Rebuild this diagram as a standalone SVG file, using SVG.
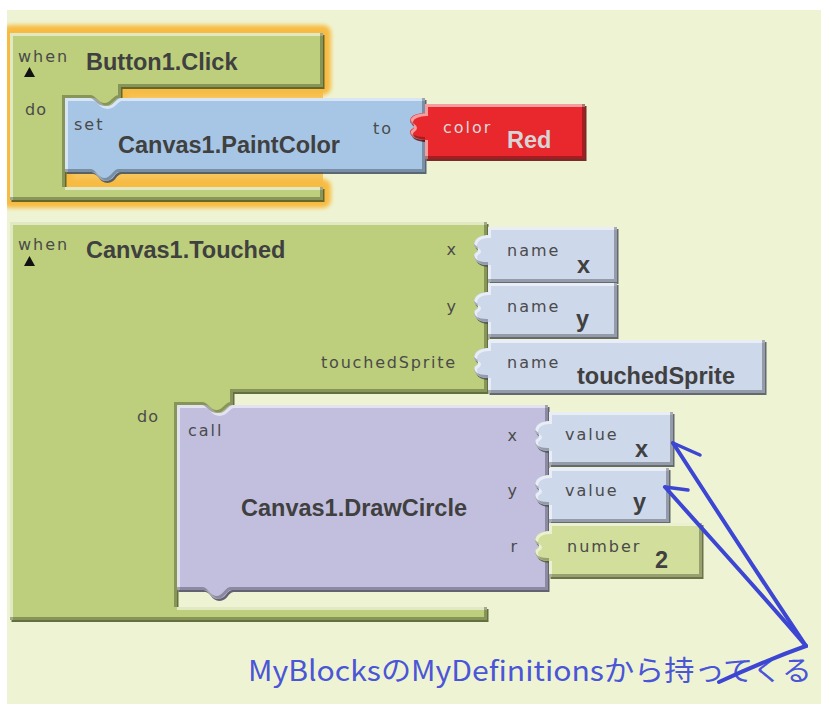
<svg xmlns="http://www.w3.org/2000/svg" xmlns:xlink="http://www.w3.org/1999/xlink" width="821" height="704" viewBox="0 0 821 704">
  <style>
    .sh { opacity: .85; }
    .hl { fill: none; stroke: #ffffff; stroke-opacity: .55; stroke-width: 3; }
    .dk { fill: none; stroke: #000000; stroke-opacity: .28; stroke-width: 3; }
    .lbl { font-family: "DejaVu Sans", Verdana, sans-serif; font-size: 16px; fill: #4a4a4a; letter-spacing: 2px; }
    .lbl0 { font-family: "DejaVu Sans", Verdana, sans-serif; font-size: 16px; fill: #4a4a4a; letter-spacing: 1px; }
    .ttl { font-family: "Liberation Sans", Arial, sans-serif; font-size: 23.5px; font-weight: bold; fill: #404040; }
    .tri { fill: #111111; }
    .note { font-family: "Noto Sans CJK JP", "Noto Sans", sans-serif; font-size: 28px; fill: #4B55D8; }
  </style>
  <defs>
    <!-- block outlines -->
    <path id="p-btn" d="M10,33 H323 V87 H121 V98 H120 C115,98 114,106 106,106 C98,106 97,98 92,98 H65 V187 H323 V200 H10 Z"/>
    <path id="p-set" d="M65,98 H92 C97,98 98,106 106,106 C114,106 115,98 120,98 H425 V172 H120 C115,172 114,181 106,181 C98,181 97,172 92,172 H65 Z"/>
    <path id="p-red" d="M425,104 H585 V159 H425 V140 C419,140 410,138 410,132 C410,129 414,129 414,126.5 C414,124 410,124 410,121 C410,115 419,113 425,113 Z"/>
    <path id="p-tch" d="M10,222 H487 V392 H233 V405 H232 C227,405 226,413 218,413 C210,413 209,405 204,405 H177 V607 H487 V620 H10 Z"/>
    <path id="p-nx" d="M488,227 H617 V282 H488 V265 C482,265 474,263 474,255 C474,252 478,252 478,250 C478,248 474,248 474,245 C474,237 482,235 488,235 Z"/>
    <path id="p-ny" d="M488,283 H617 V337 H488 V322 C482,322 474,320 474,312 C474,309 478,309 478,307 C478,305 474,305 474,302 C474,294 482,292 488,292 Z"/>
    <path id="p-ns" d="M488,340 H765 V393 H488 V378 C482,378 474,376 474,368 C474,365 478,365 478,363 C478,361 474,361 474,358 C474,350 482,348 488,348 Z"/>
    <path id="p-call" d="M177,405 H204 C209,405 210,413 218,413 C226,413 227,405 232,405 H548 V590 H232 C227,590 226,599 218,599 C210,599 209,590 204,590 H177 Z"/>
    <path id="p-vx" d="M549,412 H673 V465 H549 V451 C543,451 535,449 535,441 C535,438 539,438 539,436 C539,434 535,434 535,431 C535,423 543,421 549,421 Z"/>
    <path id="p-vy" d="M549,468 H669 V522 H549 V505 C543,505 535,503 535,495 C535,492 539,492 539,490 C539,488 535,488 535,485 C535,477 543,475 549,475 Z"/>
    <path id="p-n2" d="M549,523 H702 V577 H549 V561 C543,561 535,559 535,551 C535,548 539,548 539,546 C539,544 535,544 535,541 C535,533 543,531 549,531 Z"/>

    <clipPath id="c-btn"><use xlink:href="#p-btn"/></clipPath>
    <clipPath id="c-set"><use xlink:href="#p-set"/></clipPath>
    <clipPath id="c-red"><use xlink:href="#p-red"/></clipPath>
    <clipPath id="c-tch"><use xlink:href="#p-tch"/></clipPath>
    <clipPath id="c-nx"><use xlink:href="#p-nx"/></clipPath>
    <clipPath id="c-ny"><use xlink:href="#p-ny"/></clipPath>
    <clipPath id="c-ns"><use xlink:href="#p-ns"/></clipPath>
    <clipPath id="c-call"><use xlink:href="#p-call"/></clipPath>
    <clipPath id="c-vx"><use xlink:href="#p-vx"/></clipPath>
    <clipPath id="c-vy"><use xlink:href="#p-vy"/></clipPath>
    <clipPath id="c-n2"><use xlink:href="#p-n2"/></clipPath>
    <clipPath id="c-page"><rect x="7" y="10" width="814" height="694"/></clipPath>

    <filter id="glow" x="-10%" y="-10%" width="120%" height="120%">
      <feGaussianBlur stdDeviation="2"/>
    </filter>
  </defs>

  <!-- page -->
  <rect x="0" y="0" width="821" height="704" fill="#ffffff"/>
  <rect x="7" y="10" width="814" height="694" fill="#EEF4D3"/>

  <g clip-path="url(#c-page)">
    <!-- selection highlight of the click handler -->
    <g id="selection">
      <rect x="65" y="87" width="258" height="100" fill="#F7C55A"/>
      <use xlink:href="#p-btn" fill="#F7BB43" stroke="#F7BB43" stroke-width="16" stroke-linejoin="round" filter="url(#glow)"/>
    </g>

    <!-- when Button1.Click -->
    <g id="n-button-click">
      <use xlink:href="#p-btn" class="sh" fill="#4B5724" transform="translate(1.5,2)"/>
      <use xlink:href="#p-btn" fill="#BDCF7C"/>
      <g clip-path="url(#c-btn)">
        <use xlink:href="#p-btn" class="hl" transform="translate(1.5,1.5)"/>
        <use xlink:href="#p-btn" class="dk" transform="translate(-1.5,-1.5)"/>
      </g>
      <text class="lbl" x="18" y="62">when</text>
      <polygon class="tri" points="29.5,67 35,77 24,77"/>
      <text class="ttl" x="86" y="70">Button1.Click</text>
      <text class="lbl0" x="25" y="115">do</text>
    </g>

    <!-- set Canvas1.PaintColor -->
    <g id="n-set-paintcolor">
      <use xlink:href="#p-set" class="sh" fill="#3E4F63" transform="translate(1.5,2)"/>
      <use xlink:href="#p-set" fill="#A7C6E6"/>
      <g clip-path="url(#c-set)">
        <use xlink:href="#p-set" class="hl" transform="translate(1.5,1.5)"/>
        <use xlink:href="#p-set" class="dk" transform="translate(-1.5,-1.5)"/>
      </g>
      <text class="lbl" x="74" y="130">set</text>
      <text class="ttl" x="118" y="153">Canvas1.PaintColor</text>
      <text class="lbl" x="373" y="134">to</text>
    </g>

    <!-- color Red -->
    <g id="n-color-red">
      <use xlink:href="#p-red" class="sh" fill="#5A0A0C" transform="translate(1.5,2)"/>
      <use xlink:href="#p-red" fill="#E8282D"/>
      <g clip-path="url(#c-red)">
        <use xlink:href="#p-red" class="hl" transform="translate(1.5,1.5)"/>
        <use xlink:href="#p-red" class="dk" transform="translate(-1.5,-1.5)"/>
      </g>
      <text class="lbl" x="443" y="133" style="fill:#DADADA">color</text>
      <text class="ttl" x="507" y="148" style="fill:#D6D6D6">Red</text>
    </g>

    <!-- when Canvas1.Touched -->
    <g id="n-canvas-touched">
      <use xlink:href="#p-tch" class="sh" fill="#4B5724" transform="translate(1.5,2)"/>
      <use xlink:href="#p-tch" fill="#BDCF7C"/>
      <g clip-path="url(#c-tch)">
        <use xlink:href="#p-tch" class="hl" transform="translate(1.5,1.5)"/>
        <use xlink:href="#p-tch" class="dk" transform="translate(-1.5,-1.5)"/>
      </g>
      <text class="lbl" x="18" y="250">when</text>
      <polygon class="tri" points="29.5,256 35,266 24,266"/>
      <text class="ttl" x="86" y="258">Canvas1.Touched</text>
      <text class="lbl0" x="457" y="255" text-anchor="end">x</text>
      <text class="lbl0" x="457" y="312" text-anchor="end">y</text>
      <text class="lbl0" x="457" y="368" text-anchor="end" style="letter-spacing:1.8px">touchedSprite</text>
      <text class="lbl0" x="137" y="422">do</text>
    </g>

    <!-- event parameters -->
    <g id="n-name-x">
      <use xlink:href="#p-nx" class="sh" fill="#4A505C" transform="translate(1.5,2)"/>
      <use xlink:href="#p-nx" fill="#CED8EB"/>
      <g clip-path="url(#c-nx)">
        <use xlink:href="#p-nx" class="hl" transform="translate(1.5,1.5)"/>
        <use xlink:href="#p-nx" class="dk" transform="translate(-1.5,-1.5)"/>
      </g>
      <text class="lbl" x="507" y="256">name</text>
      <text class="ttl" x="577" y="273">x</text>
    </g>
    <g id="n-name-y">
      <use xlink:href="#p-ny" class="sh" fill="#4A505C" transform="translate(1.5,2)"/>
      <use xlink:href="#p-ny" fill="#CED8EB"/>
      <g clip-path="url(#c-ny)">
        <use xlink:href="#p-ny" class="hl" transform="translate(1.5,1.5)"/>
        <use xlink:href="#p-ny" class="dk" transform="translate(-1.5,-1.5)"/>
      </g>
      <text class="lbl" x="507" y="312">name</text>
      <text class="ttl" x="576" y="327">y</text>
    </g>
    <g id="n-name-sprite">
      <use xlink:href="#p-ns" class="sh" fill="#4A505C" transform="translate(1.5,2)"/>
      <use xlink:href="#p-ns" fill="#CED8EB"/>
      <g clip-path="url(#c-ns)">
        <use xlink:href="#p-ns" class="hl" transform="translate(1.5,1.5)"/>
        <use xlink:href="#p-ns" class="dk" transform="translate(-1.5,-1.5)"/>
      </g>
      <text class="lbl" x="507" y="368">name</text>
      <text class="ttl" x="577" y="384">touchedSprite</text>
    </g>

    <!-- call Canvas1.DrawCircle -->
    <g id="n-call-drawcircle">
      <use xlink:href="#p-call" class="sh" fill="#4A4860" transform="translate(1.5,2)"/>
      <use xlink:href="#p-call" fill="#C2BFDE"/>
      <g clip-path="url(#c-call)">
        <use xlink:href="#p-call" class="hl" transform="translate(1.5,1.5)"/>
        <use xlink:href="#p-call" class="dk" transform="translate(-1.5,-1.5)"/>
      </g>
      <text class="lbl" x="188" y="436">call</text>
      <text class="ttl" x="241" y="516">Canvas1.DrawCircle</text>
      <text class="lbl0" x="518" y="441" text-anchor="end">x</text>
      <text class="lbl0" x="518" y="496" text-anchor="end">y</text>
      <text class="lbl0" x="518" y="552" text-anchor="end">r</text>
    </g>

    <!-- arguments -->
    <g id="n-value-x">
      <use xlink:href="#p-vx" class="sh" fill="#4A505C" transform="translate(1.5,2)"/>
      <use xlink:href="#p-vx" fill="#CED8EB"/>
      <g clip-path="url(#c-vx)">
        <use xlink:href="#p-vx" class="hl" transform="translate(1.5,1.5)"/>
        <use xlink:href="#p-vx" class="dk" transform="translate(-1.5,-1.5)"/>
      </g>
      <text class="lbl" x="565" y="440">value</text>
      <text class="ttl" x="635" y="457">x</text>
    </g>
    <g id="n-value-y">
      <use xlink:href="#p-vy" class="sh" fill="#4A505C" transform="translate(1.5,2)"/>
      <use xlink:href="#p-vy" fill="#CED8EB"/>
      <g clip-path="url(#c-vy)">
        <use xlink:href="#p-vy" class="hl" transform="translate(1.5,1.5)"/>
        <use xlink:href="#p-vy" class="dk" transform="translate(-1.5,-1.5)"/>
      </g>
      <text class="lbl" x="565" y="496">value</text>
      <text class="ttl" x="633" y="510">y</text>
    </g>
    <g id="n-number-2">
      <use xlink:href="#p-n2" class="sh" fill="#555C30" transform="translate(1.5,2)"/>
      <use xlink:href="#p-n2" fill="#D2DE9C"/>
      <g clip-path="url(#c-n2)">
        <use xlink:href="#p-n2" class="hl" transform="translate(1.5,1.5)"/>
        <use xlink:href="#p-n2" class="dk" transform="translate(-1.5,-1.5)"/>
      </g>
      <text class="lbl" x="567" y="552">number</text>
      <text class="ttl" x="655" y="568">2</text>
    </g>

    <!-- annotation -->
    <g id="n-note">
      <text class="note" x="248" y="681" textLength="564" lengthAdjust="spacingAndGlyphs">MyBlocksのMyDefinitionsから持ってくる</text>
    </g>

    <!-- hand-drawn pointers -->
    <g id="connectors" fill="none" stroke="#3C46D2" stroke-width="4" stroke-linecap="round" stroke-linejoin="round">
      <path d="M806,646 C765,585 715,508 673,443"/>
      <path d="M673,443 L700,455" stroke-width="3.5"/>
      <path d="M806,646 C760,592 712,540 665,487"/>
      <path d="M665,487 L688,490" stroke-width="3.5"/>
      <path d="M806,646 C775,657 745,670 719,682"/>
    </g>
  </g>
</svg>
